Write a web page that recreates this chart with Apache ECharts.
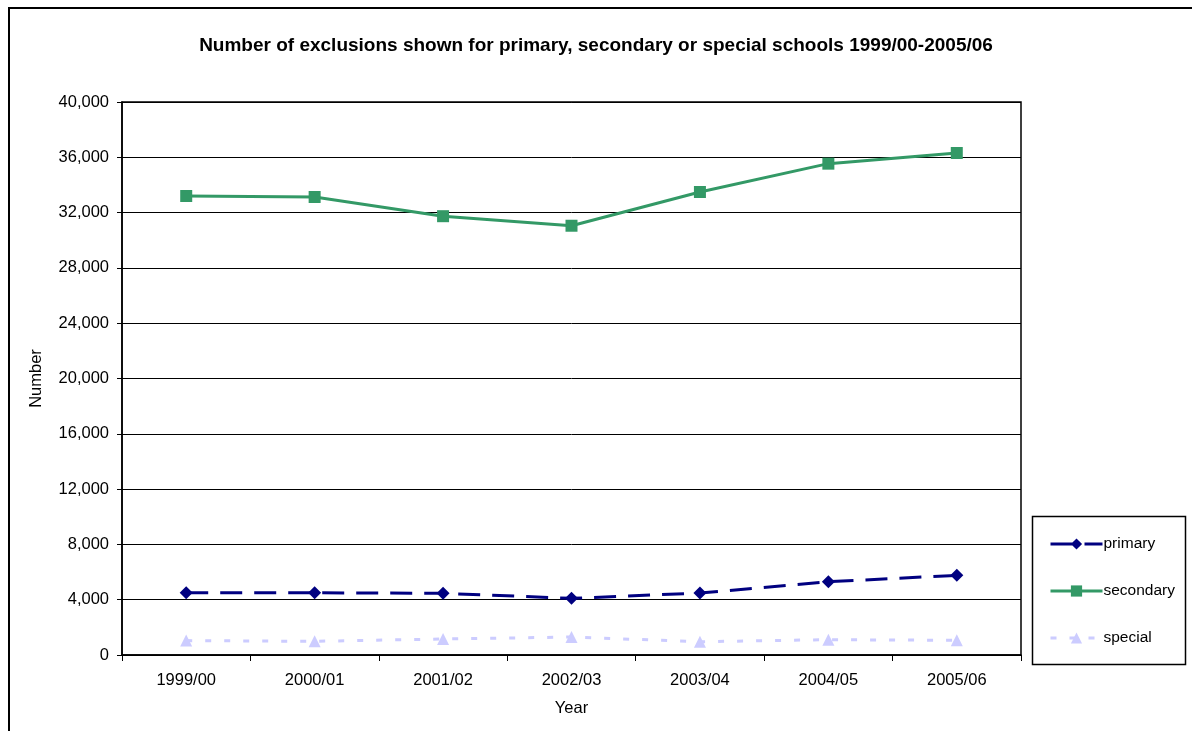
<!DOCTYPE html>
<html>
<head>
<meta charset="utf-8">
<title>Exclusions 1999/00-2005/06</title>
<script src="https://cdn.jsdelivr.net/npm/echarts@6/dist/echarts.min.js"></script>
<style>
	html, body { margin: 0; padding: 0; background: #fff; }
	#chart { width: 1192px; height: 731px; }
</style>
</head>
<body>
<div id="chart"></div>
<script>
// data
var years = ["1999/00", "2000/01", "2001/02", "2002/03", "2003/04", "2004/05", "2005/06"];
var primary = [4500, 4500, 4460, 4100, 4480, 5300, 5760];
var secondary = [33200, 33130, 31740, 31050, 33490, 35540, 36310];
var special = [1040, 990, 1160, 1300, 960, 1110, 1060];

var font = "Arial, 'Liberation Sans', sans-serif";

var chart = echarts.init(document.getElementById("chart"));

var option = {
	backgroundColor: "#fff",
	animation: false,
	title: {
		text: "Number of exclusions shown for primary, secondary or special schools 1999/00-2005/06",
		left: "center",
		top: 31,
		textStyle: {
			fontFamily: font,
			fontSize: 19,
			fontWeight: "bold",
			color: "#000"
		}
	},
	// outer frame and legend box
	graphic: [
		{
			type: "rect",
			shape: { x: 9, y: 8, width: 1210, height: 760 },
			style: { fill: "none", stroke: "#000", lineWidth: 2 },
			silent: true
		},
		{
			type: "rect",
			shape: { x: 1032.5, y: 516.5, width: 153, height: 148 },
			style: { fill: "#fff", stroke: "#000", lineWidth: 1.5 },
			z: 0,
			silent: true
		}
	],
	legend: {
		orient: "vertical",
		left: 1044,
		top: 531,
		itemWidth: 52,
		itemHeight: 14,
		itemGap: 31,
		z: 10,
		textStyle: {
			fontFamily: font,
			fontSize: 15.5,
			color: "#000",
			padding: [0, 0, 0, -4]
		},
		data: [
			{ name: "primary", lineStyle: { width: 3 } },
			{ name: "secondary", lineStyle: { width: 3 } },
			{ name: "special", lineStyle: { width: 3 } }
		]
	},
	grid: {
		left: 122,
		top: 102,
		right: 171,
		bottom: 76,
		show: true,
		borderColor: "#000",
		borderWidth: 1.5,
		backgroundColor: "#fff"
	},
	xAxis: {
		type: "category",
		data: years,
		boundaryGap: true,
		name: "Year",
		nameLocation: "middle",
		nameGap: 45,
		nameTextStyle: { fontFamily: font, fontSize: 16.5, color: "#000" },
		axisLine: { lineStyle: { color: "#000", width: 1.5 } },
		axisTick: { show: true, length: 6, lineStyle: { color: "#000" } },
		axisLabel: { fontFamily: font, fontSize: 16.5, color: "#000", margin: 17 }
	},
	yAxis: {
		type: "value",
		min: 0,
		max: 40000,
		interval: 4000,
		name: "Number",
		nameLocation: "middle",
		nameGap: 77,
		nameTextStyle: { fontFamily: font, fontSize: 16.5, color: "#000" },
		axisLine: { show: true, lineStyle: { color: "#000", width: 1.5 } },
		axisTick: { show: true, length: 5, lineStyle: { color: "#000" } },
		axisLabel: {
			fontFamily: font,
			fontSize: 16.5,
			color: "#000",
			margin: 13,
			formatter: function(v) {
				return v.toString().replace(/\B(?=(\d{3})+(?!\d))/g, ",");
			}
		},
		splitLine: { show: true, lineStyle: { color: "#000", width: 1 } }
	},
	series: [
		{
			name: "primary",
			type: "line",
			data: primary,
			symbol: "diamond",
			symbolSize: 13,
			color: "#000080",
			lineStyle: { width: 3, type: [22, 12] },
			z: 4
		},
		{
			name: "secondary",
			type: "line",
			data: secondary,
			symbol: "rect",
			symbolSize: 12,
			color: "#339966",
			lineStyle: { width: 3, type: "solid" },
			z: 4
		},
		{
			name: "special",
			type: "line",
			data: special,
			symbol: "triangle",
			symbolSize: 12,
			color: "#CCCCFF",
			lineStyle: { width: 3, type: [6, 13] },
			z: 3
		}
	]
};

chart.setOption(option);
</script>
</body>
</html>
